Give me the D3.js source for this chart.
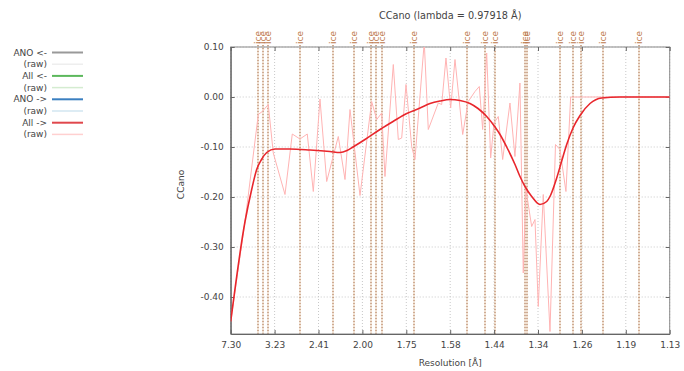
<!DOCTYPE html>
<html>
<head>
<meta charset="utf-8">
<script src="https://cdn.jsdelivr.net/npm/d3@7"></script>
<style>
  body { margin: 0; background: #fff; }
  svg { font-family: "DejaVu Sans", sans-serif; }
</style>
</head>
<body>
<div id="chart"></div>
<script>
// x axis is linear in 1/d^2, ticks evenly spaced between dMax and dMin
const dMax = 7.30;
const dMin = 1.13;
const xTickLabels = ["7.30", "3.23", "2.41", "2.00", "1.75", "1.58", "1.44", "1.34", "1.26", "1.19", "1.13"];
const yTicks = [0.10, 0.00, -0.10, -0.20, -0.30, -0.40];
const yMin = -0.474;
const yMax = 0.10;

// ice ring d-spacings (A)
const iceRings = [3.897, 3.669, 3.441, 2.671, 2.249, 2.072, 1.948, 1.918, 1.883, 1.721,
  1.524, 1.473, 1.444, 1.372, 1.367, 1.299, 1.275, 1.261, 1.224, 1.171];

// All -> (raw), x given as 1/d^2
const rawS = [0.0188, 0.0437, 0.0668, 0.0738, 0.0842, 0.0929, 0.1133, 0.1260, 0.1394, 0.1521,
  0.1626, 0.1742, 0.1859, 0.2061, 0.2178, 0.2265, 0.2439, 0.2642, 0.2730, 0.2817,
  0.2874, 0.3019, 0.3106, 0.3165, 0.3240, 0.3339, 0.3396, 0.3558, 0.3628, 0.3802,
  0.3861, 0.3936, 0.4018, 0.4093, 0.4227, 0.4324, 0.4441, 0.4516, 0.4575, 0.4645,
  0.4714, 0.4772, 0.4847, 0.4923, 0.5050, 0.5137, 0.5224, 0.5282, 0.5329, 0.5428,
  0.5486, 0.5543, 0.5630, 0.5747, 0.5843, 0.5921, 0.6025, 0.6107, 0.6647, 0.7831];
const rawCC = [-0.449, -0.249, -0.035, -0.029, -0.015, -0.112, -0.195, -0.074, -0.084, -0.074,
  -0.189, -0.004, -0.169, -0.079, -0.165, -0.025, -0.197, -0.009, -0.045, -0.032,
  -0.159, 0.065, -0.085, -0.082, 0.025, -0.099, -0.125, 0.110, -0.065, -0.012,
  -0.015, 0.078, -0.022, 0.075, -0.075, -0.009, 0.011, 0.021, -0.065, 0.088,
  -0.122, -0.052, -0.039, -0.125, -0.012, -0.119, 0.028, -0.352, -0.185, -0.259,
  -0.245, -0.419, -0.195, -0.469, -0.095, -0.105, -0.189, 0.000, 0.000, 0.000];

// All -> (smoothed)
const fitS = [0.0188, 0.0437, 0.0553, 0.0640, 0.0724, 0.0815, 0.0959, 0.1220, 0.1569, 0.1917,
  0.2091, 0.2213, 0.2317, 0.2526, 0.2787, 0.3014, 0.3252, 0.3484, 0.3658, 0.3832,
  0.4006, 0.4180, 0.4354, 0.4494, 0.4645, 0.4790, 0.4877, 0.4993, 0.5138, 0.5225,
  0.5312, 0.5429, 0.5573, 0.5690, 0.5747, 0.5864, 0.5951, 0.6038, 0.6148, 0.6270,
  0.6444, 0.6647, 0.6966, 0.7831];
const fitCC = [-0.449, -0.249, -0.185, -0.145, -0.125, -0.111, -0.104, -0.104, -0.106, -0.109,
  -0.111, -0.107, -0.100, -0.085, -0.065, -0.049, -0.033, -0.022, -0.013, -0.008,
  -0.005, -0.007, -0.013, -0.023, -0.039, -0.060, -0.075, -0.100, -0.135, -0.159,
  -0.179, -0.199, -0.215, -0.209, -0.199, -0.162, -0.128, -0.095, -0.062, -0.037,
  -0.013, -0.002, 0.000, 0.000];

const legendLabels = ["ANO <-", "(raw)", "All <-", "(raw)", "ANO ->", "(raw)", "All ->", "(raw)"];
const legendColors = ["#999999", "#eeeeee", "#5cb85c", "#d4ecd0", "#3a7fc0", "#d2e6f0", "#e0474c", "#ffd0d0"];

const width = 684, height = 371;
const margin = { top: 47, right: 14.3, bottom: 37, left: 230.7 };
const plotW = width - margin.left - margin.right;
const plotH = height - margin.top - margin.bottom;

const svg = d3.select('#chart').append('svg')
  .attr('width', width)
  .attr('height', height);

const s0 = 1 / (dMax * dMax);
const s1 = 1 / (dMin * dMin);
const x = d3.scaleLinear().domain([s0, s1]).range([0, plotW]);
const y = d3.scaleLinear().domain([yMin, yMax]).range([plotH, 0]);
const xTicks = xTickLabels.map((d, i) => s0 + i * (s1 - s0) / (xTickLabels.length - 1));
const fmt = d3.formatLocale({ decimal: ".", thousands: ",", grouping: [3], currency: ["", ""], minus: "-" }).format(".2f");

const g = svg.append('g').attr('transform', `translate(${margin.left},${margin.top})`);

svg.append('defs').append('clipPath').attr('id', 'clip')
  .append('rect').attr('width', plotW).attr('height', plotH);

// grid
g.append('g').selectAll('line').data(yTicks).enter().append('line')
  .attr('x1', 0).attr('x2', plotW)
  .attr('y1', d => y(d)).attr('y2', d => y(d))
  .attr('stroke', '#c8c8c8').attr('stroke-dasharray', '1,2');
g.append('g').selectAll('line').data(xTicks).enter().append('line')
  .attr('x1', d => x(d)).attr('x2', d => x(d))
  .attr('y1', 0).attr('y2', plotH)
  .attr('stroke', '#c8c8c8').attr('stroke-dasharray', '1,2');

// ice rings: light tan band with darker dots
const iceX = d => Math.round(margin.left + x(1 / (d * d))) - margin.left;
const ice = g.append('g');
const iceLines = ice.append('g').attr('opacity', 0.55);
iceLines.selectAll('line.band').data(iceRings).enter().append('line')
  .attr('class', 'band')
  .attr('x1', iceX).attr('x2', iceX)
  .attr('y1', -2).attr('y2', plotH)
  .attr('stroke', '#e6ccb2').attr('stroke-width', 2);
iceLines.selectAll('line.dots').data(iceRings).enter().append('line')
  .attr('class', 'dots')
  .attr('x1', iceX).attr('x2', iceX)
  .attr('y1', -2).attr('y2', plotH)
  .attr('stroke', '#a86a3e').attr('stroke-width', 2).attr('stroke-dasharray', '1,2');
ice.selectAll('text').data(iceRings).enter().append('text')
  .attr('transform', d => `translate(${x(1 / (d * d)) + 3},-3) rotate(-90)`)
  .attr('font-size', 9).attr('fill', '#bd7a4c')
  .text('ice');

// frame
g.append('rect').attr('width', plotW).attr('height', plotH)
  .attr('fill', 'none').attr('stroke', '#8a8a8a').attr('stroke-width', 1);

// axes
const yAxis = d3.axisLeft(y).tickValues(yTicks).tickFormat(fmt).tickSizeInner(-4).tickSizeOuter(0).tickPadding(7);
const xAxis = d3.axisBottom(x).tickValues(xTicks).tickFormat((d, i) => xTickLabels[i]).tickSizeInner(-4).tickSizeOuter(0).tickPadding(8);

const ya = g.append('g').call(yAxis);
const xa = g.append('g').attr('transform', `translate(0,${plotH})`).call(xAxis);
// mirrored ticks on top and right
g.append('g').call(d3.axisTop(x).tickValues(xTicks).tickFormat('').tickSizeInner(-4).tickSizeOuter(0))
  .select('.domain').remove();
g.append('g').attr('transform', `translate(${plotW},0)`)
  .call(d3.axisRight(y).tickValues(yTicks).tickFormat('').tickSizeInner(-4).tickSizeOuter(0))
  .select('.domain').remove();

g.selectAll('.tick line').attr('stroke', '#666');
[ya, xa].forEach(a => {
  a.select('.domain').attr('stroke', '#666').attr('stroke-width', 1.2);
  a.selectAll('text').attr('font-size', 9).attr('fill', '#444').attr('font-family', '"DejaVu Sans", sans-serif');
});

// lines
const plot = g.append('g').attr('clip-path', 'url(#clip)');
plot.append('path')
  .datum(rawS.map((s, i) => [s, rawCC[i]]))
  .attr('d', d3.line().x(d => x(d[0])).y(d => y(d[1])))
  .attr('fill', 'none').attr('stroke', '#ffb3b3').attr('stroke-width', 1);
plot.append('path')
  .datum(fitS.map((s, i) => [s, fitCC[i]]))
  .attr('d', d3.line().x(d => x(d[0])).y(d => y(d[1])).curve(d3.curveMonotoneX))
  .attr('fill', 'none').attr('stroke', '#e8262c').attr('stroke-width', 1.6);

// titles
svg.append('text')
  .attr('x', margin.left + plotW / 2).attr('y', 19)
  .attr('text-anchor', 'middle').attr('font-size', 9.7).attr('fill', '#444')
  .text('CCano (lambda = 0.97918 Å)');
svg.append('text')
  .attr('x', margin.left + plotW / 2).attr('y', 366)
  .attr('text-anchor', 'middle').attr('font-size', 9).attr('fill', '#444')
  .text('Resolution [Å]');
svg.append('text')
  .attr('transform', `translate(184,${margin.top + plotH / 2 - 6}) rotate(-90)`)
  .attr('text-anchor', 'middle').attr('font-size', 9).attr('fill', '#444')
  .text('CCano');

// legend
const legend = svg.append('g');
const rows = legend.selectAll('g').data(legendLabels).enter().append('g')
  .attr('transform', (d, i) => `translate(0,${52.5 + i * 11.7})`);
rows.append('text')
  .attr('x', 47).attr('y', 3)
  .attr('text-anchor', 'end').attr('font-size', 9).attr('fill', '#444')
  .text(d => d);
rows.append('line')
  .attr('x1', 52).attr('x2', 83)
  .attr('stroke', (d, i) => legendColors[i])
  .attr('stroke-width', (d, i) => i % 2 ? 1.5 : 2);
</script>
</body>
</html>
